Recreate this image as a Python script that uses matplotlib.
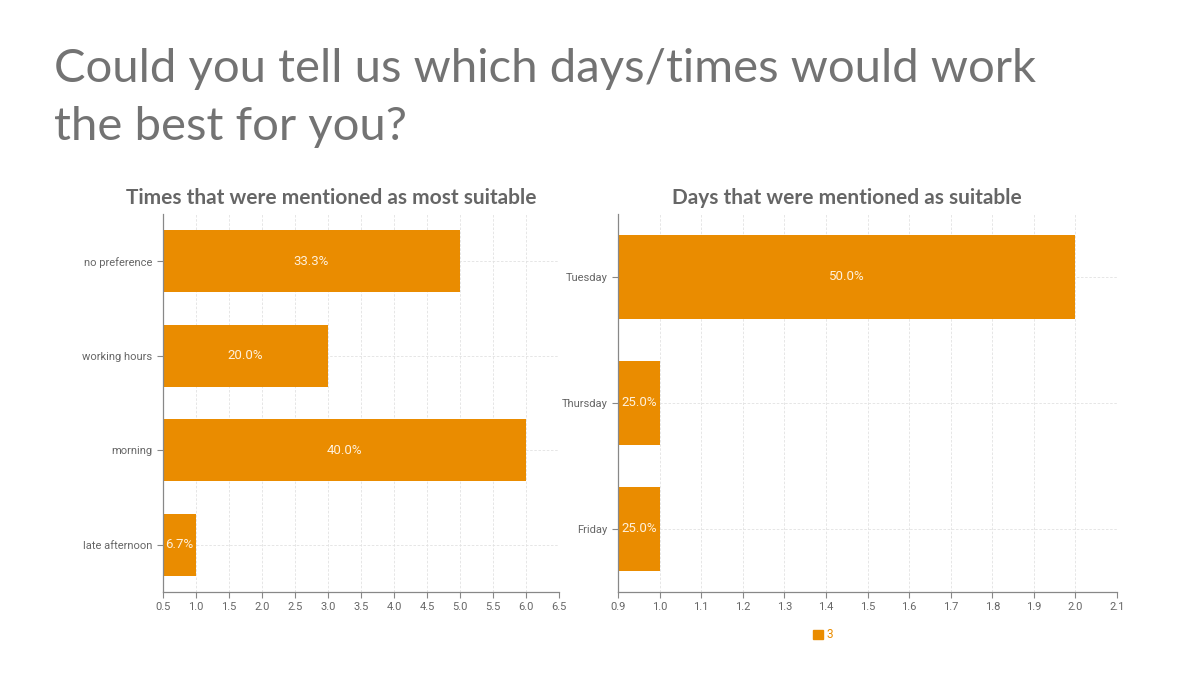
import matplotlib.pyplot as plt
from matplotlib.patches import Patch

# data
times = ["no preference", "working hours", "morning", "late afternoon"]
time_counts = [5, 3, 6, 1]
days = ["Tuesday", "Thursday", "Friday"]
day_counts = [2, 1, 1]
legend_label = "3"

BAR = "#EA8C00"
GREY = "#666666"

fig = plt.figure(figsize=(12, 6.75), dpi=100)
fig.patch.set_facecolor("white")

# main heading, one baseline per line
heading = ["Could you tell us which days/times would work", "the best for you?"]
for line, base in zip(heading, [82, 140]):
    fig.text(54 / 1200, 1 - base / 675, line, family="Lato", fontsize=34,
             color="#737373", ha="left", va="baseline")


def draw_panel(ax, cats, counts, xmin, xmax, step, title, title_x):
    '''horizontal bars starting at the left edge, with share labels'''
    total = sum(counts)
    ypos = list(range(len(cats)))[::-1]
    ax.barh(ypos, counts, height=0.66, color=BAR, zorder=2)
    ax.set_xlim(xmin, xmax)
    ax.set_ylim(-0.5, len(cats) - 0.5)
    ax.set_yticks(ypos)
    ax.set_yticklabels(cats)
    n = int(round((xmax - xmin) / step))
    ticks = [xmin + i * step for i in range(n + 1)]
    ax.set_xticks(ticks)
    ax.set_xticklabels([f"{t:.1f}" for t in ticks])
    for y, c in zip(ypos, counts):
        pct = c / total * 100
        ax.text((xmin + c) / 2, y, f"{pct:.1f}%", ha="center", va="center",
                color="#FFF1DC", family="Roboto", fontsize=9.5, zorder=3)
    ax.grid(True, color="#e2e2e2", linestyle=(0, (3, 2)), linewidth=0.6, zorder=0)
    for s in ["top", "right"]:
        ax.spines[s].set_visible(False)
    for s in ["left", "bottom"]:
        ax.spines[s].set_color("#888888")
        ax.spines[s].set_linewidth(0.9)
    ax.tick_params(colors="#888888", labelcolor=GREY, labelsize=8, length=4, width=0.8)
    for lab in ax.get_xticklabels() + ax.get_yticklabels():
        lab.set_family("Roboto")
    ax.text(title_x, 1 + 16 / 378, title, transform=ax.transAxes, ha="center",
            va="center", family="Lato", fontweight="bold", fontsize=15, color="#666666")


ax1 = fig.add_axes([163 / 1200, 1 - 592 / 675, 396 / 1200, 378 / 675])
draw_panel(ax1, times, time_counts, 0.5, 6.5, 0.5,
           "Times that were mentioned as most suitable", 0.424)

ax2 = fig.add_axes([618 / 1200, 1 - 592 / 675, 499 / 1200, 378 / 675])
draw_panel(ax2, days, day_counts, 0.9, 2.1, 0.1,
           "Days that were mentioned as suitable", 0.459)

leg = fig.legend(handles=[Patch(facecolor=BAR, edgecolor=BAR)], labels=[legend_label],
                 loc="center", bbox_to_anchor=(823 / 1200, 1 - 635 / 675),
                 frameon=False, handlelength=0.8, handleheight=0.8, handletextpad=0.3,
                 prop={"family": "Roboto", "size": 8.5})
for t in leg.get_texts():
    t.set_color(BAR)

fig.savefig("out.png", dpi=100)
